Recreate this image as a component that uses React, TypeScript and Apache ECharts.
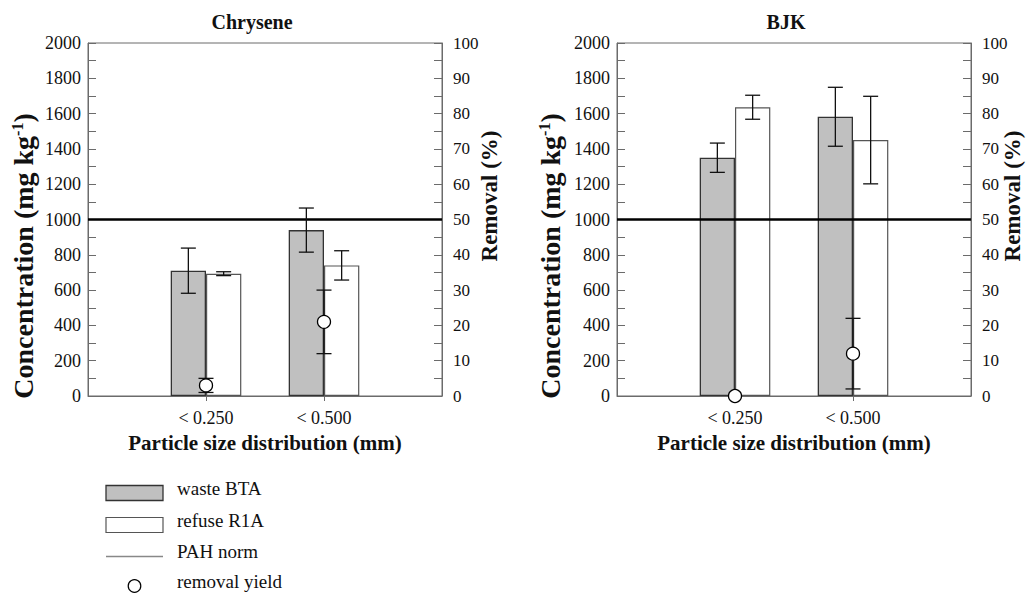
import React, { useEffect, useRef } from 'react';
import * as echarts from 'echarts';

// ---------- data ----------
const categories = ['< 0.250', '< 0.500'];
const titles = ['Chrysene', 'BJK'];

const chryseneWaste = [710, 940];
const chryseneWasteErr = [128, 125];
const chryseneRefuse = [693, 740];
const chryseneRefuseErr = [11, 83];
const chryseneRemoval = [3, 21];
const chryseneRemovalErr = [2, 9];

const bjkWaste = [1350, 1582];
const bjkWasteErr = [83, 167];
const bjkRefuse = [1636, 1450];
const bjkRefuseErr = [68, 248];
const bjkRemoval = [0, 12];
const bjkRemovalErr = [0, 10];

const PAH_NORM = 1000;
const legendNames = ['waste BTA', 'refuse R1A', 'PAH norm', 'removal yield'];

// ---------- style ----------
const FONT = "'Liberation Serif', 'Times New Roman', serif";
const AXIS = '#6b6b6b';
const INK = '#111';
const BAR_W = 35.3;
const CAP = 15;

const panels = [
  { waste: chryseneWaste, wasteErr: chryseneWasteErr, refuse: chryseneRefuse, refuseErr: chryseneRefuseErr, removal: chryseneRemoval, removalErr: chryseneRemovalErr },
  { waste: bjkWaste, wasteErr: bjkWasteErr, refuse: bjkRefuse, refuseErr: bjkRefuseErr, removal: bjkRemoval, removalErr: bjkRemovalErr },
];

const xCats = ['', ...categories, ''];
const pad = (vals: number[]) => ['-', ...vals, '-'];

const makeErr = (xi: number, yi: number, vals: number[], errs: number[], dx: number, z: number) => ({
  type: 'custom',
  name: 'err',
  xAxisIndex: xi,
  yAxisIndex: yi,
  z,
  silent: true,
  data: vals.map((v, i) => [i + 1, v, errs[i]]),
  renderItem: (params: any, api: any) => {
    const e = api.value(2);
    if (!e) return null;
    const x = api.value(0);
    const v = api.value(1);
    const top = api.coord([x, v + e]);
    const bot = api.coord([x, v - e]);
    const cx = top[0] + dx;
    const style = { stroke: INK, lineWidth: 1.3 };
    return {
      type: 'group',
      children: [
        { type: 'line', shape: { x1: cx, y1: top[1], x2: cx, y2: bot[1] }, style },
        { type: 'line', shape: { x1: cx - CAP / 2, y1: top[1], x2: cx + CAP / 2, y2: top[1] }, style },
        { type: 'line', shape: { x1: cx - CAP / 2, y1: bot[1], x2: cx + CAP / 2, y2: bot[1] }, style },
      ],
    };
  },
});

const gridLefts = [88, 617];

const BAR_STYLES = [
  { fill: '#c0c0c0', stroke: '#333', lineWidth: 1.3 },
  { fill: '#ffffff', stroke: '#555', lineWidth: 1.2 },
];

function buildLegend(): any[] {
  const left = 106;
  const w = 57;
  const h = 15;
  const centers = [493, 525, 556.5, 586];
  const textX = 177;
  const items: any[] = [];
  legendNames.forEach((name, i) => {
    const cy = centers[i];
    if (i < 2) {
      items.push({ type: 'rect', shape: { x: left, y: cy - h / 2, width: w, height: h }, style: BAR_STYLES[i] });
    } else if (i === 2) {
      items.push({ type: 'line', shape: { x1: left, y1: cy, x2: left + w, y2: cy }, style: { stroke: '#888', lineWidth: 1.3 } });
    } else {
      items.push({ type: 'circle', shape: { cx: left + w / 2, cy, r: 6.3 }, style: { fill: '#fff', stroke: '#000', lineWidth: 1.2 } });
    }
    items.push({
      type: 'text', x: textX, y: cy - 5,
      style: { text: name, fontFamily: FONT, fontSize: 19, fill: INK, align: 'left', verticalAlign: 'middle' },
    });
  });
  return items;
}

function buildOption() {
  const grid = gridLefts.map((left) => ({
    left, top: 43, width: 354, height: 353,
    show: true, borderColor: AXIS, borderWidth: 1, backgroundColor: 'transparent',
  }));

  const xAxis = gridLefts.map((_, i) => ({
    type: 'category',
    gridIndex: i,
    data: xCats,
    boundaryGap: false,
    axisLine: { show: true, lineStyle: { color: AXIS, width: 1 } },
    axisTick: { show: true, inside: false, length: 5, interval: (idx: number) => idx > 0 && idx < xCats.length - 1, lineStyle: { color: AXIS } },
    axisLabel: { interval: 0, margin: 13, fontFamily: FONT, fontSize: 18, color: INK },
    splitLine: { show: false },
    name: 'Particle size distribution (mm)',
    nameLocation: 'middle',
    nameGap: 36,
    nameTextStyle: { fontFamily: FONT, fontSize: 21, fontWeight: 'bold', color: INK },
  }));

  const yAxis: any[] = [];
  gridLefts.forEach((_, i) => {
    yAxis.push({
      type: 'value', gridIndex: i, min: 0, max: 2000, interval: 100, position: 'left',
      axisLine: { show: true, lineStyle: { color: AXIS } },
      axisTick: { show: true, inside: true, length: 8, lineStyle: { color: AXIS } },
      axisLabel: { margin: 7, fontFamily: FONT, fontSize: 18, color: INK, formatter: (v: number) => (v % 200 === 0 ? String(v) : '') },
      splitLine: { show: false },
    });
    yAxis.push({
      type: 'value', gridIndex: i, min: 0, max: 100, interval: 5, position: 'right',
      axisLine: { show: true, lineStyle: { color: AXIS } },
      axisTick: { show: true, inside: true, length: 8, lineStyle: { color: AXIS } },
      axisLabel: { margin: 11, fontFamily: FONT, fontSize: 17, color: INK, formatter: (v: number) => (v % 10 === 0 ? String(v) : '') },
      splitLine: { show: false },
    });
  });

  const series: any[] = [];
  panels.forEach((p, i) => {
    const yc = 2 * i;
    const yr = 2 * i + 1;
    series.push({
      type: 'bar', name: legendNames[0], xAxisIndex: i, yAxisIndex: yc, data: pad(p.waste),
      barWidth: BAR_W, barGap: '0%', z: 2,
      itemStyle: { color: BAR_STYLES[0].fill, borderColor: BAR_STYLES[0].stroke, borderWidth: BAR_STYLES[0].lineWidth },
    });
    series.push({
      type: 'bar', name: legendNames[1], xAxisIndex: i, yAxisIndex: yc, data: pad(p.refuse),
      barWidth: BAR_W, barGap: '0%', z: 2,
      itemStyle: { color: BAR_STYLES[1].fill, borderColor: BAR_STYLES[1].stroke, borderWidth: BAR_STYLES[1].lineWidth },
    });
    series.push({
      type: 'line', name: legendNames[2], xAxisIndex: i, yAxisIndex: yc,
      data: xCats.map(() => PAH_NORM), symbol: 'none', z: 3,
      itemStyle: { color: '#000' },
      lineStyle: { color: '#000', width: 2.6 },
    });
    series.push(makeErr(i, yc, p.waste, p.wasteErr, -BAR_W / 2, 4));
    series.push(makeErr(i, yc, p.refuse, p.refuseErr, BAR_W / 2, 4));
    series.push(makeErr(i, yr, p.removal, p.removalErr, 0, 5));
    series.push({
      type: 'scatter', name: legendNames[3], xAxisIndex: i, yAxisIndex: yr, data: pad(p.removal),
      symbol: 'circle', symbolSize: 13, z: 6,
      itemStyle: { color: '#ffffff', borderColor: '#000', borderWidth: 1.3, opacity: 1 },
    });
  });

  const titlePos = [252, 786];
  const concX = [23, 550];
  const remX = [489, 1012];
  const graphic: any[] = [];
  titles.forEach((t, i) => {
    graphic.push({
      type: 'text', x: titlePos[i], y: 22, z: 10,
      style: { text: t, fontFamily: FONT, fontSize: 20, fontWeight: 'bold', fill: INK, align: 'center', verticalAlign: 'middle' },
    });
    graphic.push({
      type: 'text', x: concX[i], y: 256, rotation: Math.PI / 2, z: 10,
      style: {
        text: '{b|Concentration (mg kg}{s|-1}{b|)}',
        align: 'center', verticalAlign: 'middle',
        fontFamily: FONT, fontSize: 28, fontWeight: 'bold', fill: INK,
        rich: {
          b: { fontFamily: FONT, fontSize: 28, fontWeight: 'bold', fill: INK },
          s: { fontFamily: FONT, fontSize: 16, fontWeight: 'bold', fill: INK, verticalAlign: 'top' },
        },
      },
    });
    graphic.push({
      type: 'text', x: remX[i], y: 196, rotation: Math.PI / 2, z: 10,
      style: { text: 'Removal (%)', fontFamily: FONT, fontSize: 23, fontWeight: 'bold', fill: INK, align: 'center', verticalAlign: 'middle' },
    });
  });
  graphic.push(...buildLegend());

  return {
    animation: false,
    backgroundColor: '#ffffff',
    grid,
    xAxis,
    yAxis,
    series,
    graphic,
  };
}

export default function App() {
  const ref = useRef<HTMLDivElement>(null);
  useEffect(() => {
    if (!ref.current) return;
    const chart = echarts.init(ref.current, undefined, { renderer: 'svg' });
    chart.setOption(buildOption() as any);
    return () => chart.dispose();
  }, []);
  return (
    <div
      ref={ref}
      style={{ position: 'fixed', left: 0, top: 0, width: 1029, height: 594, background: '#fff' }}
    />
  );
}
